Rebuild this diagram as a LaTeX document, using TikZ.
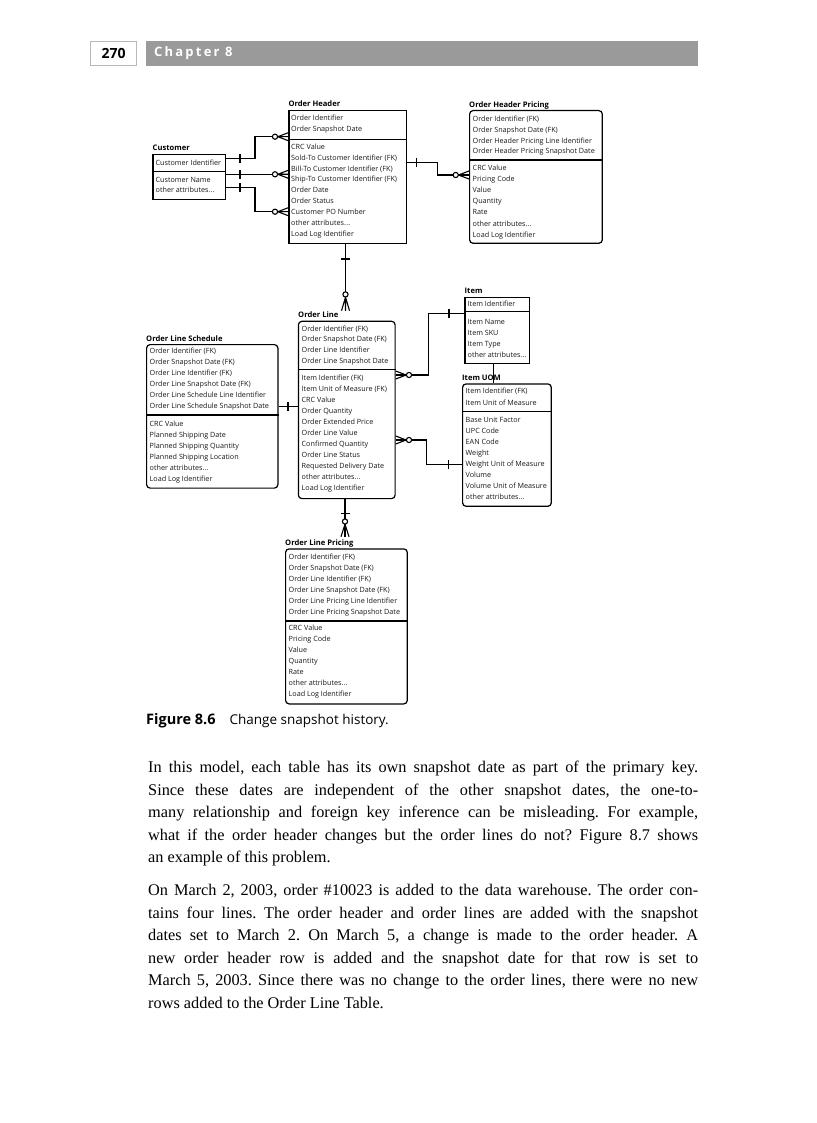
\documentclass[tikz,border=0pt]{standalone}
\usepackage{fontspec}
\setmainfont{Liberation Serif}
\newfontfamily\tabfont{Open Sans}
\newfontfamily\capfont{Open Sans}
\definecolor{barg}{HTML}{9A9A9A}
\frenchspacing
\newcommand\oth{other attributes.\kern0.3pt.\kern0.3pt.}
\newcommand\entrows[5]{%
  \foreach \t [count=\i] in {#5} {\node[row] (#1\i) at (#2, {#3+(\i-1)*#4}) {\t};}}
\newcommand\crowfoot[4]{%
  \begin{scope}[shift={(#1)}, rotate=#2]
    \draw[conn] (#3,0) -- (0,4) (#3,0) -- (0,-4) (#3,0) -- (0,0);
    \draw[conn, fill=white] (#4,0) circle (2.6);
  \end{scope}}
\newcommand\tickv[2]{\draw[conn] (#1,{#2-4.5}) -- (#1,{#2+4.5});}
\newcommand\tickh[2]{\draw[conn] ({#1-4.5},#2) -- ({#1+4.5},#2);}
\begin{document}
\begin{tikzpicture}[x=1pt,y=-1pt,
  box/.style={draw=black, line width=1.2pt, inner sep=0pt, anchor=north west},
  rbox/.style={box, rounded corners=3.5pt},
  row/.style={anchor=mid west, inner sep=0pt, font=\tabfont\fontsize{7.2}{8}\selectfont, text=black!90},
  ttl/.style={anchor=mid west, inner sep=0pt, font=\tabfont\bfseries\fontsize{7.6}{8}\selectfont},
  conn/.style={line width=1.1pt},
  divl/.style={line width=1.2pt}]
\useasboundingbox (0,0) rectangle (816,1123);
\fill[white] (0,0) rectangle (816,1123);

% ---------- page header ----------
\node[fill=barg, minimum width=552, minimum height=25, anchor=north west, inner sep=0pt] (bar) at (146,41) {};
\node[anchor=west, inner sep=0pt, text=white, font=\capfont\bfseries\fontsize{13}{13}\selectfont\addfontfeatures{LetterSpace=17}] (chap) at (154,53.5) {Chapter 8};
\node[draw=gray!55, line width=1.8pt, fill=white, minimum width=46, minimum height=24, inner sep=0pt, font=\capfont\bfseries\fontsize{14}{14}\selectfont] (pg) at (113.5,53.5) {270};

% ---------- Customer ----------
\node[ttl] (custT) at (152.5,148.5) {Customer};
\node[box, minimum width=72.7, minimum height=45] (Cust) at (152.3,154.3) {};
\draw[divl] (Cust.west |- 0,171.7) -- (Cust.east |- 0,171.7);
\entrows{custk}{155.5}{163.3}{10.7}{{Customer Identifier}}
\entrows{custa}{155.5}{180}{10.7}{{Customer Name},{\oth}}

% ---------- Order Header ----------
\node[ttl] (ohT) at (288.3,104.5) {Order Header};
\node[box, minimum width=117.4, minimum height=133] (OH) at (288.3,110) {};
\draw[divl] (OH.west |- 0,139.3) -- (OH.east |- 0,139.3);
\entrows{ohk}{291}{118.2}{10.9}{{Order Identifier},{Order Snapshot Date}}
\entrows{oha}{291}{147}{10.9}{{CRC Value},{Sold-To Customer Identifier (FK)},{Bill-To Customer Identifier (FK)},{Ship-To Customer Identifier (FK)},{Order Date},{Order Status},{Customer PO Number},{\oth},{Load Log Identifier}}

% ---------- Order Header Pricing ----------
\node[ttl] (ohpT) at (469,105) {Order Header Pricing};
\node[rbox, minimum width=132.7, minimum height=132.7] (OHP) at (469,110) {};
\draw[divl] (OHP.west |- 0,160) -- (OHP.east |- 0,160);
\entrows{ohpk}{472.5}{119}{10.9}{{Order Identifier (FK)},{Order Snapshot Date (FK)},{Order Header Pricing Line Identifier},{Order Header Pricing Snapshot Date}}
\entrows{ohpa}{472.5}{168.3}{11.1}{{CRC Value},{Pricing Code},{Value},{Quantity},{Rate},{\oth},{Load Log Identifier}}

% ---------- Item ----------
\node[ttl] (itT) at (464.5,291.5) {Item};
\node[box, minimum width=64.7, minimum height=66] (IT) at (464.3,296.7) {};
\draw[divl] (IT.west |- 0,311.7) -- (IT.east |- 0,311.7);
\entrows{itk}{467.5}{304}{11}{{Item Identifier}}
\entrows{ita}{467.5}{322.3}{11}{{Item Name},{Item SKU},{Item Type},{\oth}}

% ---------- Order Line ----------
\node[ttl] (olT) at (298,315) {Order Line};
\node[rbox, minimum width=96.7, minimum height=177.3] (OL) at (297.8,320.7) {};
\draw[divl] (OL.west |- 0,369.3) -- (OL.east |- 0,369.3);
\entrows{olk}{301.5}{329}{10.7}{{Order Identifier (FK)},{Order Snapshot Date (FK)},{Order Line Identifier},{Order Line Snapshot Date}}
\entrows{ola}{301.5}{378.3}{11}{{Item Identifier (FK)},{Item Unit of Measure (FK)},{CRC Value},{Order Quantity},{Order Extended Price},{Order Line Value},{Confirmed Quantity},{Order Line Status},{Requested Delivery Date},{\oth},{Load Log Identifier}}

% ---------- Order Line Schedule ----------
\node[ttl] (olsT) at (146,339) {Order Line Schedule};
\node[rbox, minimum width=131.3, minimum height=143.5] (OLS) at (146,344) {};
\draw[divl] (OLS.west |- 0,415) -- (OLS.east |- 0,415);
\entrows{olsk}{149.5}{351.7}{11}{{Order Identifier (FK)},{Order Snapshot Date (FK)},{Order Line Identifier (FK)},{Order Line Snapshot Date (FK)},{Order Line Schedule Line Identifier},{Order Line Schedule Snapshot Date}}
\entrows{olsa}{149.5}{424}{11}{{CRC Value},{Planned Shipping Date},{Planned Shipping Quantity},{Planned Shipping Location},{\oth},{Load Log Identifier}}

% ---------- Item UOM ----------
\node[ttl] (iuT) at (462,378.3) {Item UOM};
\node[rbox, minimum width=88.7, minimum height=122.4] (IU) at (462,383.3) {};
\draw[divl] (IU.west |- 0,411.7) -- (IU.east |- 0,411.7);
\entrows{iuk}{465.5}{391.7}{11.6}{{Item Identifier (FK)},{Item Unit of Measure}}
\entrows{iua}{465.5}{420}{11.05}{{Base Unit Factor},{UPC Code},{EAN Code},{Weight},{Weight Unit of Measure},{Volume},{Volume Unit of Measure},{\oth}}

% ---------- Order Line Pricing ----------
\node[ttl] (olpT) at (285,543.3) {Order Line Pricing};
\node[rbox, minimum width=121.7, minimum height=155] (OLP) at (285,548.3) {};
\draw[divl] (OLP.west |- 0,621) -- (OLP.east |- 0,621);
\entrows{olpk}{288.5}{557}{10.95}{{Order Identifier (FK)},{Order Snapshot Date (FK)},{Order Line Identifier (FK)},{Order Line Snapshot Date (FK)},{Order Line Pricing Line Identifier},{Order Line Pricing Snapshot Date}}
\entrows{olpa}{288.5}{628.3}{11}{{CRC Value},{Pricing Code},{Value},{Quantity},{Rate},{\oth},{Load Log Identifier}}

% ---------- connectors ----------
% Customer -> Order Header
\draw[conn] (Cust.east |- 0,158.3) -- (255,158.3) |- (OH.west |- 0,136.7);
\tickv{240}{158.3}
\crowfoot{OH.west |- 0,136.7}{180}{10.5}{13.3}
\draw[conn] (Cust.east |- 0,174.3) -- (OH.west |- 0,174.3);
\tickv{240}{174.3}
\crowfoot{OH.west |- 0,174.3}{180}{10.5}{13.3}
\draw[conn] (Cust.east |- 0,187.3) -- (255,187.3) |- (OH.west |- 0,211.7);
\tickv{240}{187.3}
\crowfoot{OH.west |- 0,211.7}{180}{10.5}{13.3}
% Order Header -> Order Header Pricing
\draw[conn] (OH.east |- 0,162.7) -- (437.7,162.7) |- (OHP.west |- 0,175);
\tickv{416.7}{162.7}
\crowfoot{OHP.west |- 0,175}{180}{10.5}{13.3}
% Order Header -> Order Line
\coordinate (olTop) at (345.5,310.7);
\draw[conn] (OH.south -| 345.5,0) -- (olTop);
\tickh{345.5}{259}
\crowfoot{olTop}{90}{13.5}{16.3}
% Item -> Order Line
\draw[conn] (IT.west |- 0,313.3) -- (428.3,313.3) |- (OL.east |- 0,375);
\tickv{449}{313.3}
\crowfoot{OL.east |- 0,375}{0}{10.5}{13.3}
% Item UOM -> Order Line
\draw[conn] (IU.west |- 0,464.3) -- (426.7,464.3) |- (OL.east |- 0,440);
\tickv{448.3}{464.3}
\crowfoot{OL.east |- 0,440}{0}{10.5}{13.3}
% Item -> Item UOM
\draw[conn] (IT.south -| 493.3,0) -- (IU.north -| 493.3,0);
% Order Line Schedule -- Order Line
\draw[conn] (OLS.east |- 0,406.7) -- (OL.west |- 0,406.7);
\tickv{288}{406.7}
% Order Line -> Order Line Pricing
\coordinate (olpTop) at (345,536.7);
\draw[conn] (OL.south -| 345,0) -- (olpTop);
\tickh{345}{513.3}
\crowfoot{olpTop}{90}{12.5}{15.2}

% ---------- caption ----------
\node[anchor=base west, inner sep=0pt, font=\capfont\fontsize{13.5}{14}\selectfont] (cap) at (146,724) {{\fontsize{14.5}{14}\selectfont\textbf{Figure 8.6}}\hspace{14pt}Change snapshot history.};

% ---------- body text ----------
\node[anchor=base west, inner sep=0pt] (p1) at (148,772.5) {\parbox[t]{550pt}{\fontsize{16.3}{22.6}\selectfont
In this model, each table has its own snapshot date as part of the primary key.\linebreak
Since these dates are independent of the other snapshot dates, the one-to-\linebreak
many relationship and foreign key inference can be misleading. For example,\linebreak
what if the order header changes but the order lines do not? Figure 8.7 shows\linebreak
an example of this problem.}};
\node[anchor=base west, inner sep=0pt] (p2) at (148,895.5) {\parbox[t]{550pt}{\fontsize{16.3}{22.6}\selectfont
On March 2, 2003, order \#10023 is added to the data warehouse. The order con-\linebreak
tains four lines. The order header and order lines are added with the snapshot\linebreak
dates set to March 2. On March 5, a change is made to the order header. A\linebreak
new order header row is added and the snapshot date for that row is set to\linebreak
March 5, 2003. Since there was no change to the order lines, there were no new\linebreak
rows added to the Order Line Table.}};
\end{tikzpicture}
\end{document}
